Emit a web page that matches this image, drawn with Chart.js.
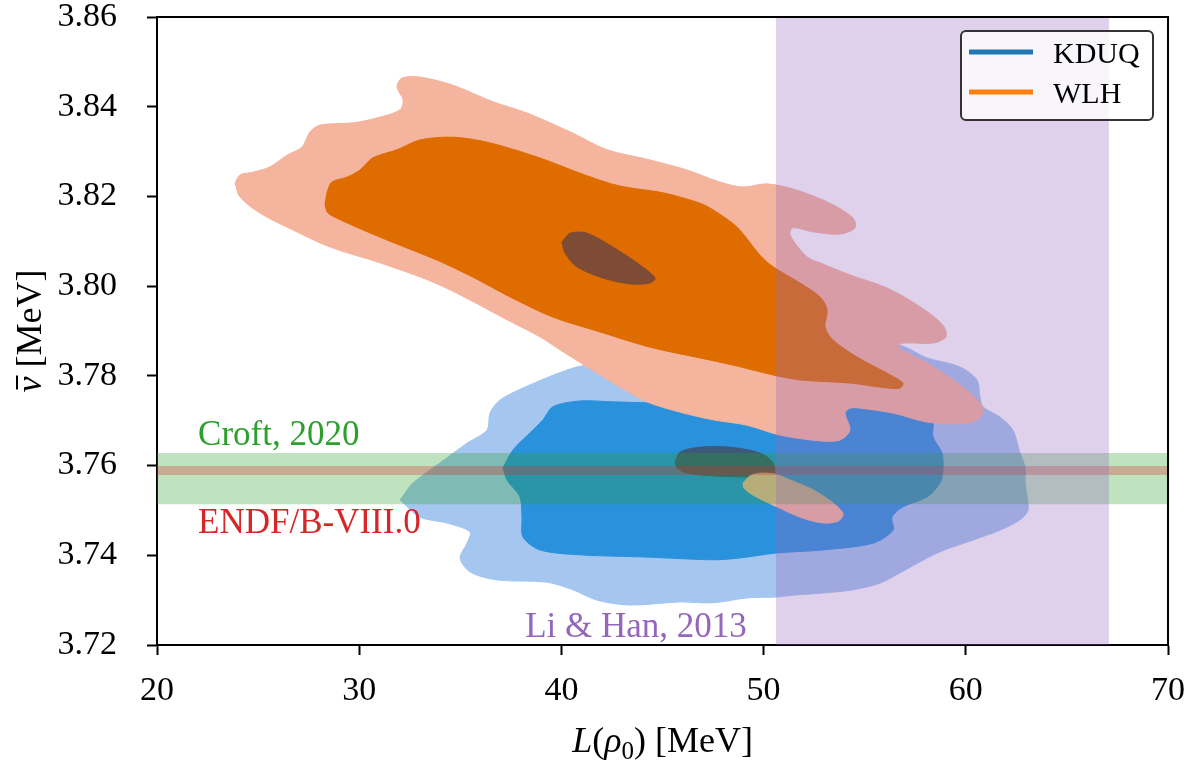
<!DOCTYPE html>
<html>
<head>
<meta charset="UTF-8">
<title>nu-bar vs L(rho0)</title>
<script src="https://cdn.jsdelivr.net/npm/chart.js@4.4.1/dist/chart.umd.min.js"></script>
<style>
  body { margin: 0; background: #fff; }
</style>
</head>
<body>
<canvas id="myChart" width="1195" height="768"></canvas>
<script>
// axis ticks
const xTicks = [20, 30, 40, 50, 60, 70];
const yTicks = [3.72, 3.74, 3.76, 3.78, 3.80, 3.82, 3.84, 3.86];

const seriesNames = ["KDUQ", "WLH"];
const seriesColors = ["#1f77b4", "#ff7f0e"];

// contour outlines, [L, nu] pairs
const kduqOuter = [[32.02,3.7523],[32.66,3.7561],[34.00,3.7606],[35.33,3.7650],[36.32,3.7679],[36.47,3.7717],[36.96,3.7746],[38.45,3.7780],[40.28,3.7813],[41.27,3.7824],[42.55,3.7820],[45.87,3.7809],[49.82,3.7813],[53.78,3.7847],[56.60,3.7869],[58.08,3.7840],[59.71,3.7820],[60.55,3.7791],[60.70,3.7753],[60.85,3.7731],[61.69,3.7708],[62.33,3.7679],[62.68,3.7628],[62.93,3.7597],[62.93,3.7561],[63.03,3.7530],[63.08,3.7501],[62.68,3.7479],[61.69,3.7456],[60.36,3.7434],[58.58,3.7405],[56.75,3.7361],[55.76,3.7338],[54.42,3.7323],[52.94,3.7316],[51.45,3.7311],[50.61,3.7307],[49.18,3.7305],[47.50,3.7294],[45.87,3.7296],[43.39,3.7289],[41.76,3.7300],[40.57,3.7323],[39.29,3.7340],[36.82,3.7345],[35.48,3.7363],[34.99,3.7394],[35.33,3.7427],[35.48,3.7452],[34.34,3.7472],[33.01,3.7485]];
const kduqMid = [[37.11,3.7595],[37.61,3.7635],[38.45,3.7673],[39.09,3.7702],[39.58,3.7731],[40.92,3.7744],[42.55,3.7742],[44.23,3.7740],[47.84,3.7735],[51.80,3.7735],[54.27,3.7731],[55.76,3.7728],[57.24,3.7719],[58.33,3.7702],[58.38,3.7664],[58.82,3.7628],[58.87,3.7590],[58.72,3.7561],[58.08,3.7530],[56.89,3.7508],[56.35,3.7485],[56.40,3.7456],[55.41,3.7427],[52.94,3.7412],[50.61,3.7405],[48.83,3.7394],[47.50,3.7390],[44.23,3.7396],[40.92,3.7401],[38.94,3.7412],[38.10,3.7441],[38.05,3.7485],[37.95,3.7530],[37.31,3.7568]];
const kduqInner = [[45.62,3.7608],[45.87,3.7630],[46.85,3.7641],[48.34,3.7641],[49.82,3.7628],[50.47,3.7606],[50.47,3.7579],[49.18,3.7575],[47.50,3.7577],[46.21,3.7583],[45.72,3.7595]];

const wlhOuter = [[23.86,3.8230],[24.10,3.8248],[24.75,3.8254],[25.59,3.8266],[26.43,3.8292],[27.17,3.8310],[27.57,3.8344],[28.06,3.8359],[29.69,3.8364],[30.88,3.8375],[32.02,3.8393],[32.17,3.8415],[31.87,3.8444],[32.12,3.8464],[33.01,3.8466],[34.64,3.8448],[36.62,3.8411],[38.30,3.8386],[40.43,3.8344],[42.26,3.8304],[44.23,3.8283],[46.21,3.8259],[47.84,3.8232],[48.98,3.8221],[50.17,3.8228],[51.65,3.8214],[53.28,3.8185],[54.42,3.8152],[54.52,3.8130],[53.78,3.8116],[52.44,3.8121],[51.45,3.8130],[51.31,3.8114],[52.15,3.8065],[52.79,3.8052],[54.27,3.8025],[56.10,3.7996],[57.74,3.7954],[58.87,3.7913],[59.02,3.7887],[58.38,3.7873],[56.89,3.7873],[56.65,3.7864],[58.08,3.7829],[59.71,3.7780],[60.70,3.7740],[60.85,3.7717],[60.36,3.7697],[59.57,3.7693],[58.08,3.7697],[56.40,3.7717],[54.77,3.7728],[54.27,3.7728],[54.03,3.7717],[54.27,3.7679],[53.78,3.7657],[52.79,3.7655],[50.81,3.7668],[49.18,3.7690],[47.50,3.7702],[45.87,3.7719],[44.23,3.7742],[42.90,3.7775],[41.27,3.7820],[39.93,3.7858],[38.94,3.7887],[37.31,3.7925],[35.48,3.7969],[33.65,3.8009],[31.03,3.8052],[28.56,3.8087],[26.73,3.8125],[25.09,3.8163],[24.10,3.8199]];
const wlhIsland = [[48.98,3.7561],[49.33,3.7577],[49.82,3.7583],[50.56,3.7581],[51.31,3.7568],[52.44,3.7546],[53.43,3.7517],[53.93,3.7492],[53.68,3.7476],[52.94,3.7472],[51.80,3.7485],[50.66,3.7508],[49.48,3.7534],[49.03,3.7550]];
const wlhMid = [[28.31,3.8181],[28.41,3.8208],[28.65,3.8232],[29.40,3.8243],[30.04,3.8259],[30.68,3.8286],[31.87,3.8304],[33.01,3.8326],[34.64,3.8332],[36.32,3.8321],[38.79,3.8288],[41.27,3.8246],[42.90,3.8223],[45.03,3.8208],[46.85,3.8185],[47.50,3.8170],[48.68,3.8132],[49.82,3.8069],[50.47,3.8043],[51.80,3.8007],[52.79,3.7976],[53.14,3.7947],[53.04,3.7909],[53.43,3.7880],[54.62,3.7842],[56.10,3.7806],[56.89,3.7784],[56.75,3.7773],[56.10,3.7773],[54.27,3.7784],[51.80,3.7791],[50.47,3.7802],[48.49,3.7824],[46.85,3.7840],[44.38,3.7864],[41.91,3.7898],[39.58,3.7931],[37.46,3.7976],[35.63,3.8020],[33.85,3.8058],[31.37,3.8103],[29.40,3.8141],[28.46,3.8163]];
const wlhInner = [[40.03,3.8098],[40.43,3.8118],[41.27,3.8118],[42.55,3.8087],[43.89,3.8047],[44.63,3.8018],[44.38,3.8007],[43.39,3.8005],[42.06,3.8018],[40.77,3.8043],[40.18,3.8074]];

// reference measurements
const croftNu = [3.7514, 3.7628];
const endfNu = 3.7589;
const liHanL = [50.61, 67.08];
const refNames = ["Croft, 2020", "ENDF/B-VIII.0", "Li & Han, 2013"];

const kduqShades = ["#a4c6ef", "#2a91dc", "#3d5a7a"];
const wlhShades = ["#f4b49d", "#de6c00", "#7e4b35"];

const serif = "'Liberation Serif', 'Times New Roman', serif";

function closed(pts) {
  let out = pts.map(p => ({x: p[0], y: p[1]}));
  out.push({x: pts[0][0], y: pts[0][1]});
  return out;
}

function region(pts, color, tension) {
  return {
    data: closed(pts),
    backgroundColor: color,
    borderColor: color,
    borderWidth: 1,
    pointRadius: 0,
    fill: 'shape',
    tension: tension
  };
}

const xMin = xTicks[0], xMax = xTicks[xTicks.length - 1];
const yMin = yTicks[0], yMax = yTicks[yTicks.length - 1];

let datasets = [
  region(kduqOuter, kduqShades[0], 0.3),
  region(kduqMid, kduqShades[1], 0.3),
  region(kduqInner, kduqShades[2], 0.3),
  region(wlhOuter, wlhShades[0], 0.3),
  region(wlhIsland, wlhShades[0], 0.3),
  region(wlhMid, wlhShades[1], 0.3),
  region(wlhInner, wlhShades[2], 0.3),
  region([[xMin, croftNu[0]], [xMax, croftNu[0]], [xMax, croftNu[1]], [xMin, croftNu[1]]], 'rgba(44,160,44,0.3)', 0),
  {
    data: [{x: xMin, y: endfNu}, {x: xMax, y: endfNu}],
    borderColor: 'rgba(214,39,40,0.3)',
    borderWidth: 9,
    pointRadius: 0,
    fill: false
  },
  region([[liHanL[0], yMin], [liHanL[1], yMin], [liHanL[1], yMax], [liHanL[0], yMax]], 'rgba(148,103,189,0.3)', 0)
];
datasets[7].borderColor = 'transparent';
datasets[9].borderColor = 'transparent';
// first in the list is drawn at the bottom
datasets.forEach((d, i) => { d.order = datasets.length - i; });

// frame, reference labels, legend and axis titles
const extras = {
  id: 'extras',
  afterDraw(chart) {
    const ctx = chart.ctx;
    const a = chart.chartArea;
    const xs = chart.scales.x, ys = chart.scales.y;
    ctx.save();

    ctx.strokeStyle = '#000';
    ctx.lineWidth = 2;
    ctx.beginPath();
    ctx.moveTo(a.left, a.top);
    ctx.lineTo(a.right, a.top);
    ctx.lineTo(a.right, a.bottom);
    ctx.stroke();

    ctx.font = '35px ' + serif;
    ctx.textBaseline = 'alphabetic';
    ctx.textAlign = 'left';
    ctx.fillStyle = '#2ca02c';
    ctx.fillText(refNames[0], xs.getPixelForValue(22.03), ys.getPixelForValue(3.7646));
    ctx.fillStyle = '#d62728';
    ctx.fillText(refNames[1], xs.getPixelForValue(22.03), ys.getPixelForValue(3.7450));
    ctx.fillStyle = '#9467bd';
    ctx.textAlign = 'center';
    ctx.fillText(refNames[2], xs.getPixelForValue(43.69), ys.getPixelForValue(3.7218));

    // legend
    const w = 192, h = 89;
    const bx = a.right - 15 - w, by = a.top + 14;
    ctx.beginPath();
    ctx.roundRect(bx, by, w, h, 5);
    ctx.fillStyle = 'rgba(255,255,255,0.8)';
    ctx.fill();
    ctx.strokeStyle = '#333';
    ctx.lineWidth = 2;
    ctx.stroke();
    ctx.font = '30px ' + serif;
    ctx.textAlign = 'left';
    seriesNames.forEach((name, i) => {
      const ly = by + 21 + i * 40;
      ctx.strokeStyle = seriesColors[i];
      ctx.lineWidth = 5;
      ctx.beginPath();
      ctx.moveTo(bx + 8, ly);
      ctx.lineTo(bx + 72, ly);
      ctx.stroke();
      ctx.fillStyle = '#000';
      ctx.fillText(name, bx + 92, ly + 11);
    });

    // axis titles
    ctx.fillStyle = '#000';
    ctx.textAlign = 'left';
    const xParts = [
      {text: 'L', font: 'italic 36px ' + serif},
      {text: '(', font: '36px ' + serif},
      {text: 'ρ', font: 'italic 36px ' + serif},
      {text: '0', font: '25px ' + serif, dy: 7},
      {text: ') [MeV]', font: '36px ' + serif}
    ];
    drawParts(ctx, xParts, (a.left + a.right) / 2, 752);

    ctx.translate(41, (a.top + a.bottom) / 2);
    ctx.rotate(-Math.PI / 2);
    const yParts = [
      {text: 'ν', font: 'italic 36px ' + serif, bar: true},
      {text: ' [MeV]', font: '36px ' + serif}
    ];
    drawParts(ctx, yParts, 0, 0);
    ctx.restore();
  }
};

function drawParts(ctx, parts, cx, baseline) {
  let total = 0;
  parts.forEach(p => { ctx.font = p.font; p.w = ctx.measureText(p.text).width; total += p.w; });
  let x = cx - total / 2;
  parts.forEach(p => {
    ctx.font = p.font;
    ctx.fillText(p.text, x, baseline + (p.dy || 0));
    if (p.bar) {
      ctx.fillRect(x + 3, baseline - 25, p.w - 2, 2);
    }
    x += p.w;
  });
}

new Chart("myChart", {
  type: 'line',
  data: { datasets: datasets },
  options: {
    responsive: false,
    animation: false,
    events: [],
    layout: { padding: { top: 17, right: 27, left: 0, bottom: 0 } },
    plugins: {
      legend: { display: false },
      tooltip: { enabled: false }
    },
    scales: {
      x: {
        type: 'linear',
        min: xMin,
        max: xMax,
        afterBuildTicks: s => { s.ticks = xTicks.map(v => ({value: v})); },
        afterFit: s => { s.height = 123; s.paddingLeft = 0; s.paddingRight = 0; },
        ticks: {
          color: '#000',
          font: { family: serif, size: 34 },
          padding: 16,
          maxRotation: 0,
          callback: v => String(v)
        },
        grid: { display: true, drawOnChartArea: false, drawTicks: true, tickLength: 10, tickWidth: 2, tickColor: '#000' },
        border: { display: true, color: '#000', width: 2 }
      },
      y: {
        type: 'linear',
        min: yMin,
        max: yMax,
        afterBuildTicks: s => { s.ticks = yTicks.map(v => ({value: v})); },
        afterFit: s => { s.width = 157; s.paddingTop = 0; s.paddingBottom = 0; },
        ticks: {
          color: '#000',
          font: { family: serif, size: 34 },
          padding: 30,
          callback: v => Number(v).toFixed(2)
        },
        grid: { display: true, drawOnChartArea: false, drawTicks: true, tickLength: 10, tickWidth: 2, tickColor: '#000' },
        border: { display: true, color: '#000', width: 2 }
      }
    }
  },
  plugins: [extras]
});
</script>
</body>
</html>
